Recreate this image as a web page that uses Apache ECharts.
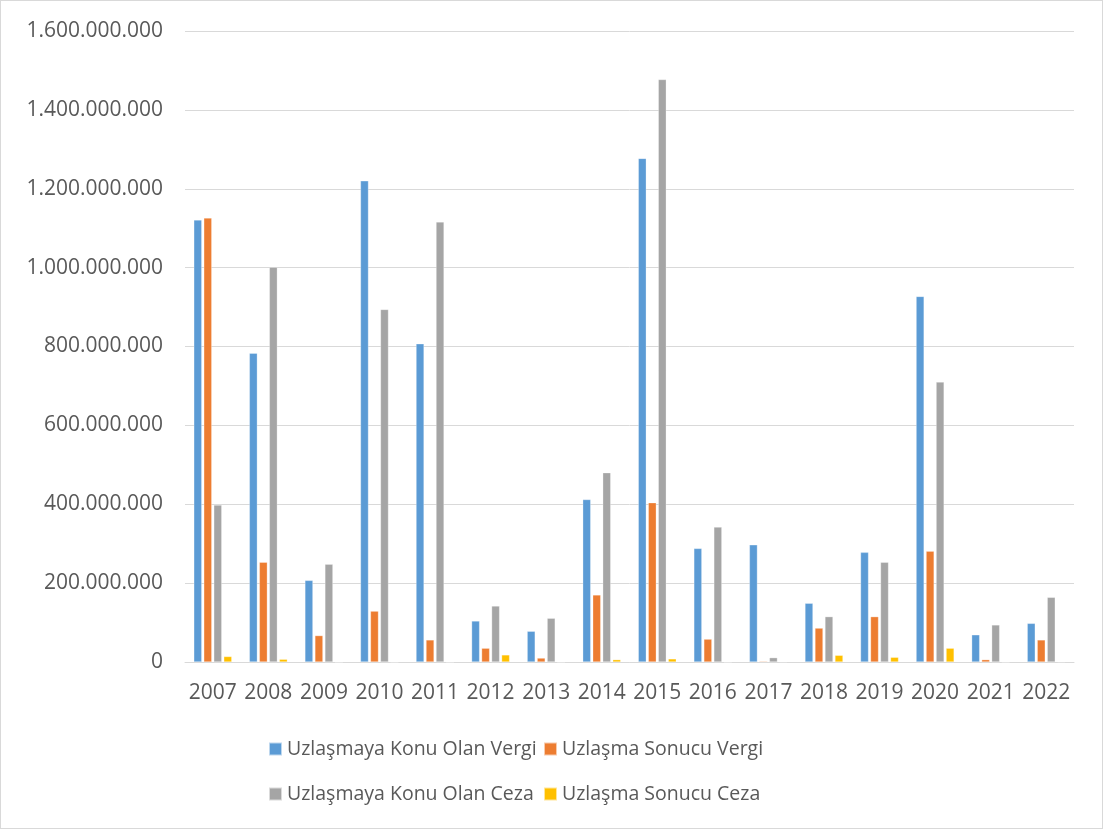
<!DOCTYPE html>
<html>
<head>
<meta charset="utf-8">
<script src="https://cdn.jsdelivr.net/npm/echarts@6/dist/echarts.min.js"></script>
<style>
  html, body { margin: 0; padding: 0; background: #ffffff; }
  #chart { width: 1103px; height: 829px; box-sizing: border-box; border: 1px solid #d9d9d9; }
</style>
</head>
<body>
<div id="chart"></div>
<script>
// Years on the category axis
const years = ['2007','2008','2009','2010','2011','2012','2013','2014','2015','2016','2017','2018','2019','2020','2021','2022'];

// Series names
const seriesNames = ['Uzlaşmaya Konu Olan Vergi', 'Uzlaşma Sonucu Vergi', 'Uzlaşmaya Konu Olan Ceza', 'Uzlaşma Sonucu Ceza'];

// Amounts (TL) per year
const konuVergi = [1121000000, 783000000, 207000000, 1220000000, 807000000, 104000000, 78000000, 412000000, 1277000000, 288000000, 297000000, 149000000, 278000000, 927000000, 69000000, 98000000];
const sonucVergi = [1126000000, 253000000, 67000000, 129000000, 56000000, 35000000, 10000000, 170000000, 404000000, 58000000, 2000000, 86000000, 115000000, 281000000, 6000000, 56000000];
const konuCeza = [398000000, 1001000000, 248000000, 894000000, 1116000000, 142000000, 111000000, 480000000, 1477000000, 342000000, 11000000, 115000000, 253000000, 710000000, 94000000, 164000000];
const sonucCeza = [14000000, 7000000, 0, 0, 0, 18000000, 0, 6000000, 8000000, 0, 1000000, 17000000, 12000000, 35000000, 0, 1000000];

// Y axis range and step
const yMin = 0;
const yMax = 1600000000;
const yStep = 200000000;

const colors = ['#5B9BD5', '#ED7D31', '#A5A5A5', '#FFC000'];
const seriesData = [konuVergi, sonucVergi, konuCeza, sonucCeza];

const FONT = 'Open Sans';
const TEXT_COLOR = '#595959';

function dotted(v) {
  return String(Math.round(v)).replace(/\B(?=(\d{3})+(?!\d))/g, '.');
}

const chart = echarts.init(document.getElementById('chart'), null, { renderer: 'canvas' });

function legendAt(name, left, top) {
  return {
    data: [name],
    left: left,
    top: top,
    icon: 'rect',
    itemWidth: 13,
    itemHeight: 13,
    itemGap: 0,
    padding: 0,
    selectedMode: false,
    textStyle: { fontFamily: FONT, fontSize: 19.5, color: TEXT_COLOR }
  };
}

chart.setOption({
  animation: false,
  color: colors,
  grid: { left: 184, right: 28, top: 30, bottom: 166, containLabel: false },
  legend: [
    legendAt(seriesNames[0], 267, 738),
    legendAt(seriesNames[1], 542, 738),
    legendAt(seriesNames[2], 267, 783),
    legendAt(seriesNames[3], 542, 783)
  ],
  xAxis: {
    type: 'category',
    data: years,
    axisLine: { show: true, lineStyle: { color: '#d9d9d9', width: 1 } },
    axisTick: { show: false },
    axisLabel: { fontFamily: FONT, fontSize: 21, color: TEXT_COLOR, margin: 21, interval: 0 }
  },
  yAxis: {
    type: 'value',
    min: yMin,
    max: yMax,
    interval: yStep,
    axisLine: { show: false },
    axisTick: { show: false },
    splitLine: { lineStyle: { color: '#d9d9d9', width: 1 } },
    axisLabel: {
      fontFamily: FONT, fontSize: 21, color: TEXT_COLOR, margin: 22,
      formatter: dotted
    }
  },
  series: seriesData.map(function (d, i) {
    return {
      name: seriesNames[i],
      type: 'bar',
      data: d,
      barWidth: 8,
      barGap: '25%',
      itemStyle: { color: colors[i], borderColor: 'rgba(255,255,255,0.6)', borderWidth: 0.5 }
    };
  })
});
</script>
</body>
</html>
